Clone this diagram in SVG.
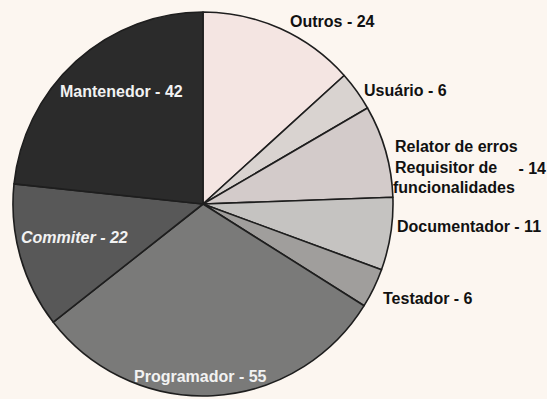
<svg xmlns="http://www.w3.org/2000/svg" width="547" height="399" viewBox="0 0 547 399">
<style>
.sl{stroke:#1e1e1e;stroke-width:1.6;stroke-linejoin:round}
.lb{font-family:"Liberation Sans",Arial,sans-serif;font-size:16px;font-weight:bold;fill:#111}
.wl{font-family:"Liberation Sans",Arial,sans-serif;font-size:16px;font-weight:bold;fill:#f2f2f2}
</style>
<rect width="547" height="399" fill="#fcf6f0"/>
<g id="connectors"></g>
<g id="outros"><path class="sl" fill="#f4e5e2" d="M203,204 L203,12 A190,192 0 0 1 344.2,75.5 Z"/><text class="lb" x="290" y="27">Outros - 24</text></g>
<g id="usuario"><path class="sl" fill="#d9d3d0" d="M203,204 L344.2,75.5 A190,192 0 0 1 367.5,108 Z"/><text class="lb" x="364" y="96" style="font-weight:600">Usuário - 6</text></g>
<g id="relator"><path class="sl" fill="#d3cbca" d="M203,204 L367.5,108 A190,192 0 0 1 392.9,197.3 Z"/><text class="lb" x="395" y="152" style="font-weight:600">Relator de erros</text><text class="lb" x="395" y="173" style="font-weight:600">Requisitor de</text><text class="lb" x="393" y="193" style="font-weight:600">funcionalidades</text><text class="lb" x="546" y="174" text-anchor="end" font-size="15">- 14</text></g>
<g id="documentador"><path class="sl" fill="#c5c3c1" d="M203,204 L392.9,197.3 A190,192 0 0 1 381.5,269.7 Z"/><text class="lb" x="397" y="232" style="font-weight:600">Documentador - 11</text></g>
<g id="testador"><path class="sl" fill="#a09e9c" d="M203,204 L381.5,269.7 A190,192 0 0 1 364.1,305.7 Z"/><text class="lb" x="383" y="304">Testador - 6</text></g>
<g id="programador"><path class="sl" fill="#7a7a79" d="M203,204 L364.1,305.7 A190,192 0 0 1 53.3,322.2 Z"/><text class="wl" x="134" y="382">Programador - 55</text></g>
<g id="commiter"><path class="sl" fill="#585858" d="M203,204 L53.3,322.2 A190,192 0 0 1 14,183.9 Z"/><text class="wl" x="21" y="243" font-style="italic">Commiter - 22</text></g>
<g id="mantenedor"><path class="sl" fill="#2b2b2b" d="M203,204 L14,183.9 A190,192 0 0 1 203,12 Z"/><text class="wl" x="60" y="97" fill="#e8e8e8">Mantenedor - 42</text></g>
</svg>
